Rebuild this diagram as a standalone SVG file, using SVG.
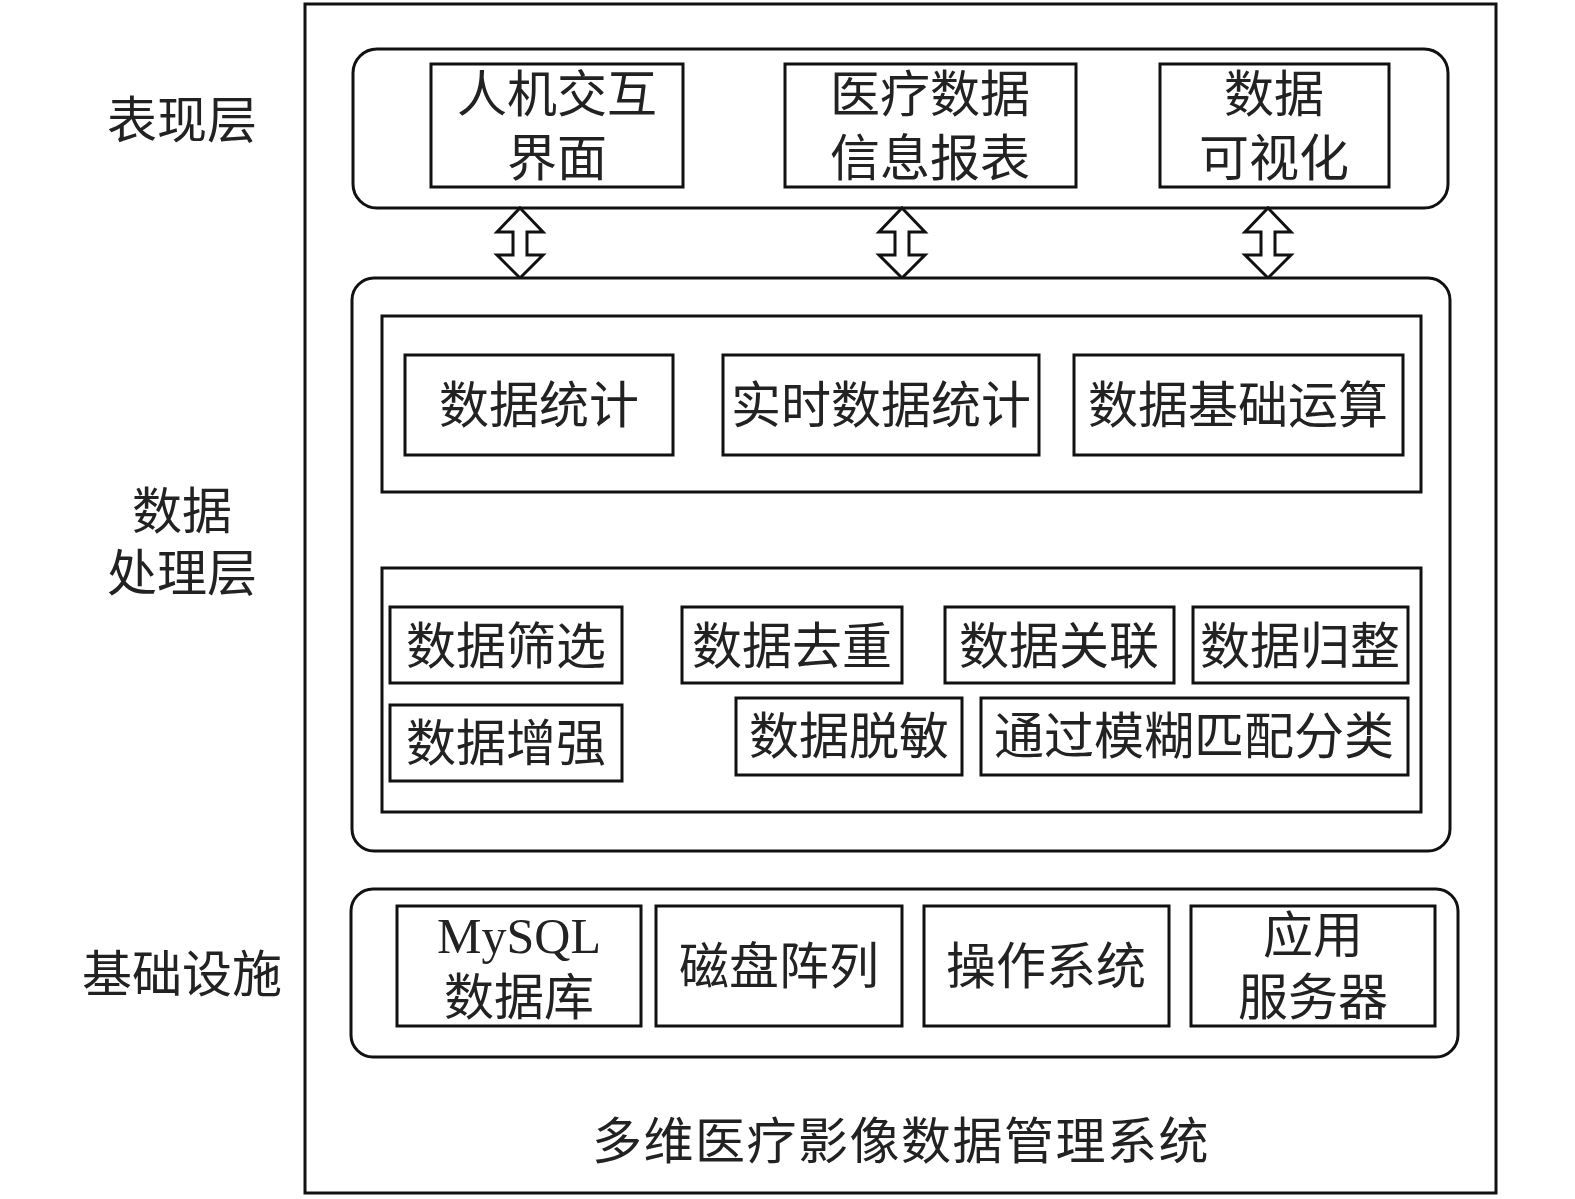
<svg xmlns="http://www.w3.org/2000/svg" width="1575" height="1199" viewBox="0 0 1575 1199">
<style>
.frame{fill:#fff;stroke:#111;stroke-width:3}
.box{fill:#fff;stroke:#111;stroke-width:3}
.t{font-family:"Noto Sans CJK SC","Noto Sans CJK JP",sans-serif;font-size:50px;fill:#222;text-anchor:middle}
.m{font-family:"Liberation Serif","Noto Sans CJK SC",serif}
.arrow{fill:#fff;stroke:#111;stroke-width:3;stroke-linejoin:miter}
</style>
<defs>
<polygon id="dblarrow" class="arrow" points="0,208 23,232 7,232 7,255 23,255 0,278 -23,255 -7,255 -7,232 -23,232"/>
</defs>
<rect id="outer" class="frame" x="305" y="4" width="1191" height="1189"/>

<g id="labels">
<text class="t" x="182" y="138">表现层</text>
<text class="t"><tspan x="182" y="529">数据</tspan><tspan x="182" y="591">处理层</tspan></text>
<text class="t" x="182" y="992">基础设施</text>
<text class="t" x="901" y="1159" style="letter-spacing:1.5px">多维医疗影像数据管理系统</text>
</g>

<g id="presentation-layer">
<rect class="frame" x="353" y="49" width="1095" height="159" rx="24"/>
<g id="n-hci"><rect class="box" x="431" y="64" width="252" height="123"/><text class="t"><tspan x="557" y="112">人机交互</tspan><tspan x="557" y="176">界面</tspan></text></g>
<g id="n-report"><rect class="box" x="785" y="64" width="291" height="123"/><text class="t"><tspan x="930" y="112">医疗数据</tspan><tspan x="930" y="176">信息报表</tspan></text></g>
<g id="n-vis"><rect class="box" x="1160" y="64" width="229" height="123"/><text class="t"><tspan x="1274" y="112">数据</tspan><tspan x="1274" y="176">可视化</tspan></text></g>
</g>

<g id="connectors">
<use href="#dblarrow" x="520"/>
<use href="#dblarrow" x="902"/>
<use href="#dblarrow" x="1268"/>
</g>

<g id="processing-layer">
<rect class="frame" x="352" y="278" width="1098" height="573" rx="22"/>
<rect class="box" x="382" y="316" width="1039" height="176"/>
<g id="n-stat"><rect class="box" x="405" y="355" width="268" height="100"/><text class="t" x="539" y="423">数据统计</text></g>
<g id="n-rtstat"><rect class="box" x="723" y="355" width="316" height="100"/><text class="t" x="881" y="423">实时数据统计</text></g>
<g id="n-basic"><rect class="box" x="1074" y="355" width="329" height="100"/><text class="t" x="1238" y="423">数据基础运算</text></g>
<rect class="box" x="382" y="568" width="1039" height="244"/>
<g id="n-filter"><rect class="box" x="390" y="607" width="232" height="76"/><text class="t" x="506" y="664">数据筛选</text></g>
<g id="n-dedup"><rect class="box" x="682" y="607" width="220" height="76"/><text class="t" x="792" y="664">数据去重</text></g>
<g id="n-assoc"><rect class="box" x="945" y="607" width="229" height="76"/><text class="t" x="1059" y="664">数据关联</text></g>
<g id="n-regular"><rect class="box" x="1193" y="607" width="215" height="76"/><text class="t" x="1300" y="664">数据归整</text></g>
<g id="n-enhance"><rect class="box" x="390" y="705" width="232" height="76"/><text class="t" x="506" y="761">数据增强</text></g>
<g id="n-mask"><rect class="box" x="736" y="698" width="226" height="77"/><text class="t" x="849" y="754">数据脱敏</text></g>
<g id="n-fuzzy"><rect class="box" x="981" y="698" width="427" height="77"/><text class="t" x="1194" y="754">通过模糊匹配分类</text></g>
</g>

<g id="infrastructure-layer">
<rect class="frame" x="351" y="889" width="1107" height="168" rx="22"/>
<g id="n-mysql"><rect class="box" x="397" y="906" width="244" height="120"/><text class="t"><tspan class="m" x="519" y="953">MySQL</tspan><tspan x="519" y="1015">数据库</tspan></text></g>
<g id="n-disk"><rect class="box" x="656" y="906" width="246" height="120"/><text class="t" x="779" y="984">磁盘阵列</text></g>
<g id="n-os"><rect class="box" x="924" y="906" width="245" height="120"/><text class="t" x="1046" y="984">操作系统</text></g>
<g id="n-app"><rect class="box" x="1191" y="906" width="244" height="120"/><text class="t"><tspan x="1313" y="953">应用</tspan><tspan x="1313" y="1015">服务器</tspan></text></g>
</g>
</svg>
